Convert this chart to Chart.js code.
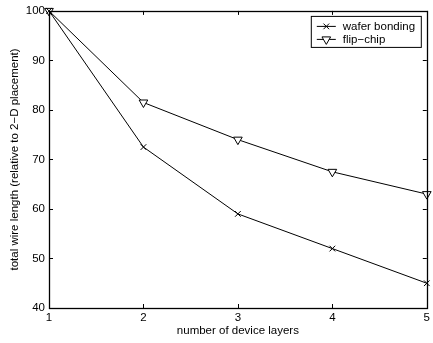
<!DOCTYPE html>
<html>
<head>
<meta charset="utf-8">
<script src="https://cdn.jsdelivr.net/npm/chart.js@4/dist/chart.umd.min.js"></script>
<style>
    html, body { margin: 0; padding: 0; background: #fff; }
    #wrap { width: 433px; height: 343px; }
</style>
</head>
<body>
<div id="wrap"><canvas id="cnvChart" width="433" height="343"></canvas></div>
<script>
// data
var layers = [1, 2, 3, 4, 5];
var waferBonding = [100, 72.5, 59, 52, 45];
var flipChip = [100, 81.5, 74, 67.5, 63];
var xTicks = [1, 2, 3, 4, 5];
var yTicks = [40, 50, 60, 70, 80, 90, 100];

var FONT = "Liberation Sans, Arial, Helvetica, sans-serif";

function toPoints(xs, ys) {
    return xs.map(function (x, i) { return { x: x, y: ys[i] }; });
}

// box + inward ticks, matlab style
var framePlugin = {
    id: 'frame',
    afterDatasetsDraw: function (chart) {
        var ctx = chart.ctx;
        var a = chart.chartArea;
        var sx = chart.scales.x, sy = chart.scales.y;
        var len = 4;
        ctx.save();
        ctx.strokeStyle = '#000';
        ctx.lineWidth = 1;
        ctx.beginPath();
        xTicks.forEach(function (v) {
            var px = Math.round(sx.getPixelForValue(v)) + 0.5;
            ctx.moveTo(px, a.bottom); ctx.lineTo(px, a.bottom - len);
            ctx.moveTo(px, a.top); ctx.lineTo(px, a.top + len);
        });
        yTicks.forEach(function (v) {
            var py = Math.round(sy.getPixelForValue(v)) + 0.5;
            ctx.moveTo(a.left, py); ctx.lineTo(a.left + len, py);
            ctx.moveTo(a.right, py); ctx.lineTo(a.right - len, py);
        });
        ctx.stroke();
        ctx.lineWidth = 1.3;
        ctx.strokeRect(Math.round(a.left) + 0.5, Math.round(a.top) + 0.5,
            Math.round(a.right - a.left), Math.round(a.bottom - a.top));
        ctx.restore();
    },
    afterDraw: function (chart) {
        // legend box with line + marker samples
        var ctx = chart.ctx;
        var a = chart.chartArea;
        var bx = a.right - 116, by = a.top + 5, bw = 110, bh = 31;
        ctx.save();
        ctx.fillStyle = '#fff';
        ctx.fillRect(bx, by, bw, bh);
        ctx.strokeStyle = '#000';
        ctx.lineWidth = 1;
        ctx.strokeRect(bx + 0.5, by + 0.5, bw, bh);
        ctx.font = '11.5px ' + FONT;
        ctx.textBaseline = 'middle';
        chart.data.datasets.forEach(function (ds, i) {
            var yy = by + 10 + i * 13;
            ctx.beginPath();
            ctx.moveTo(bx + 6, yy + 0.5);
            ctx.lineTo(bx + 25, yy + 0.5);
            ctx.lineWidth = 1;
            ctx.strokeStyle = '#000';
            ctx.stroke();
            ctx.fillStyle = '#fff';
            Chart.helpers.drawPoint(ctx, {
                pointStyle: ds.pointStyle,
                radius: ds.pointRadius,
                rotation: ds.pointRotation || 0,
                borderWidth: 1
            }, bx + 15.5, yy + 0.5);
            ctx.fillStyle = '#000';
            ctx.fillText(ds.label, bx + 32, yy + 1);
        });
        ctx.restore();
    }
};

var ctx = document.getElementById('cnvChart');
var myChart = new Chart(ctx, {
    type: 'line',
    data: {
        datasets: [{
            label: 'wafer bonding',
            data: toPoints(layers, waferBonding),
            borderColor: '#000',
            backgroundColor: '#fff',
            borderWidth: 1,
            pointStyle: 'crossRot',
            pointRadius: 4,
            pointBorderColor: '#000',
            pointBorderWidth: 1,
            tension: 0
        }, {
            label: 'flip\u2212chip',
            data: toPoints(layers, flipChip),
            borderColor: '#000',
            backgroundColor: '#fff',
            borderWidth: 1,
            pointStyle: 'triangle',
            pointRotation: 180,
            pointRadius: 5,
            pointBackgroundColor: '#fff',
            pointBorderColor: '#000',
            pointBorderWidth: 1,
            tension: 0
        }]
    },
    options: {
        responsive: false,
        animation: false,
        clip: false,
        layout: { padding: { top: 7, right: 4, left: 0, bottom: 0 } },
        plugins: {
            legend: { display: false },
            tooltip: { enabled: false }
        },
        scales: {
            x: {
                type: 'linear',
                min: 1,
                max: 5,
                afterBuildTicks: function (scale) {
                    scale.ticks = xTicks.map(function (v) { return { value: v }; });
                },
                afterFit: function (scale) { scale.height = 35; },
                grid: { display: false, drawTicks: false },
                border: { display: false },
                ticks: {
                    color: '#000',
                    padding: 3,
                    font: { family: FONT, size: 11.5 }
                },
                title: {
                    display: true,
                    text: 'number of device layers',
                    color: '#000',
                    padding: { top: 0, bottom: 5 },
                    font: { family: FONT, size: 11.5 }
                }
            },
            y: {
                type: 'linear',
                min: 40,
                max: 100,
                afterBuildTicks: function (scale) {
                    scale.ticks = yTicks.map(function (v) { return { value: v }; });
                },
                afterFit: function (scale) { scale.width = 49; },
                grid: { display: false, drawTicks: false },
                border: { display: false },
                ticks: {
                    color: '#000',
                    padding: 4,
                    font: { family: FONT, size: 11.5 }
                },
                title: {
                    display: true,
                    text: 'total wire length (relative to 2\u2212D placement)',
                    color: '#000',
                    padding: { top: 8, bottom: 0 },
                    font: { family: FONT, size: 11.5 }
                }
            }
        }
    },
    plugins: [framePlugin]
});
</script>
</body>
</html>
